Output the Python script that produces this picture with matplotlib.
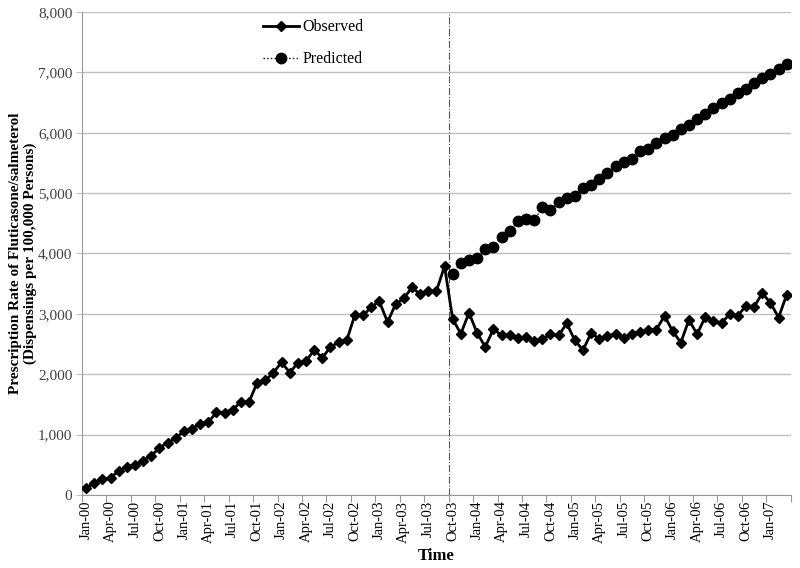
import matplotlib
matplotlib.use("Agg")
import matplotlib.pyplot as plt
from matplotlib.ticker import FuncFormatter

plt.rcParams['font.family'] = ['Liberation Serif', 'DejaVu Serif']

# monthly labels Jan-00 .. Mar-07
mois = ["Jan", "Feb", "Mar", "Apr", "May", "Jun", "Jul", "Aug", "Sep", "Oct", "Nov", "Dec"]
months = [m + "-%02d" % a for a in range(0, 8) for m in mois][:87]

observed = [122, 193, 260, 287, 398, 464, 503, 569, 652, 779,
            867, 939, 1061, 1094, 1182, 1204, 1370, 1365, 1414, 1540,
            1540, 1860, 1900, 2028, 2199, 2028, 2188, 2216, 2404, 2271,
            2454, 2526, 2564, 2985, 2974, 3112, 3206, 2863, 3162, 3256,
            3439, 3323, 3378, 3378, 3787, 2914, 2670, 3018, 2681, 2454,
            2748, 2642, 2642, 2593, 2620, 2548, 2587, 2659, 2642, 2842,
            2559, 2399, 2687, 2581, 2640, 2661, 2602, 2674, 2696, 2729,
            2740, 2967, 2713, 2525, 2901, 2663, 2950, 2878, 2851, 2994,
            2967, 3138, 3116, 3343, 3183, 2939, 3320]

# predicted starts at Oct-03
pred_start = 45
predicted = [3661, 3843, 3898, 3921, 4081, 4115, 4281, 4369, 4530, 4563,
             4546, 4768, 4723, 4851, 4911, 4956, 5077, 5133, 5232, 5330,
             5446, 5514, 5564, 5696, 5729, 5834, 5912, 5967, 6055, 6133,
             6232, 6315, 6409, 6486, 6564, 6663, 6729, 6823, 6901, 6978,
             7061, 7138]

intervention = 44.6

fig = plt.figure(figsize=(8, 5.68), dpi=100)
ax = fig.add_axes([0.1025, 0.1285, 0.886, 0.8505])

x_obs = list(range(len(observed)))
x_pred = list(range(pred_start, pred_start + len(predicted)))

ax.plot(x_obs, observed, color="black", lw=2, marker="D", ms=5.5, label="Observed", zorder=3)
ax.plot(x_pred, predicted, color="black", lw=1, ls=":", marker="o", ms=7.5, label="Predicted", zorder=3)
ax.axvline(intervention, color="#555555", lw=0.8, ls="-.", zorder=2)

ax.set_xlim(-0.5, len(observed) - 0.5)
ax.set_ylim(0, 8000)
ax.set_yticks(range(0, 8001, 1000))
ax.yaxis.set_major_formatter(FuncFormatter(lambda v, p: "{:,}".format(int(v))))
ax.grid(axis="y", color="#bfbfbf", lw=1)
ax.set_axisbelow(True)

# labels centered on categories, tick marks between categories
ax.set_xticks([i - 0.5 for i in range(0, len(observed) + 1, 3)])
ax.set_xticklabels([])
ax.set_xticks(range(0, len(observed), 3), minor=True)
ax.set_xticklabels(months[::3], minor=True, rotation=90, fontsize=10.5)
ax.tick_params(axis="x", which="minor", length=0, pad=4)
ax.tick_params(axis="x", which="major", length=5, color="#999999", direction="out")
ax.tick_params(axis="y", length=4, color="#bfbfbf", labelsize=11, labelcolor="#404040", pad=3)

for s in ["top", "right"]:
    ax.spines[s].set_visible(False)
ax.spines["left"].set_color("#999999")
ax.spines["bottom"].set_color("#999999")

ax.set_ylabel("Prescription Rate of Fluticasone/salmeterol\n(Dispensings per 100,000 Persons)",
              fontsize=11, fontweight="bold", linespacing=1.1)
ax.yaxis.set_label_coords(-0.064, 0.5)
ax.set_xlabel("Time", fontsize=12, fontweight="bold", labelpad=4)

ax.legend(loc="upper left", bbox_to_anchor=(0.255, 0.985), frameon=False, fontsize=11.5,
          handlelength=2.3, handletextpad=0.2, labelspacing=1.0, borderpad=0, borderaxespad=0)

plt.savefig("out.png", dpi=100)
